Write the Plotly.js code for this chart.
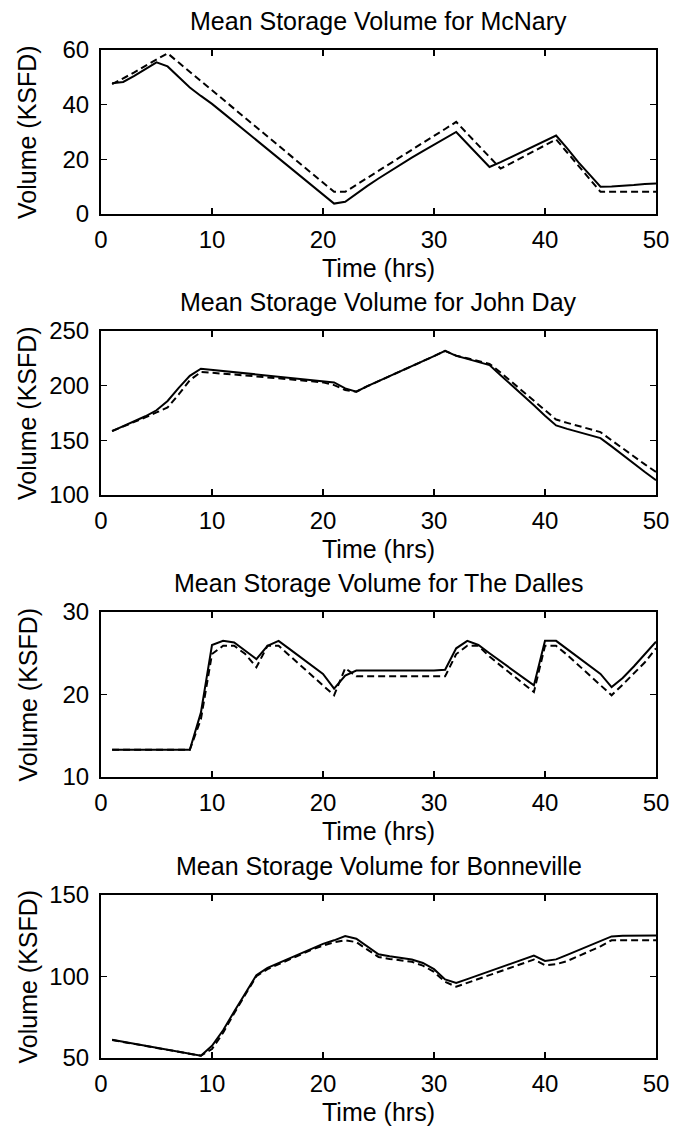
<!DOCTYPE html>
<html>
<head>
<meta charset="utf-8">
<script src="https://cdn.plot.ly/plotly-3.0.1.min.js"></script>
<style>
  html, body { margin: 0; padding: 0; background: #fff; }
  #chart { width: 673px; height: 1129px; }
</style>
</head>
<body>
<div id="chart"></div>
<script>
// ---------------- DATA ----------------
const hours = Array.from({length: 50}, (_, i) => i + 1);

const plotTitles = [
  "Mean Storage Volume for McNary",
  "Mean Storage Volume for John Day",
  "Mean Storage Volume for The Dalles",
  "Mean Storage Volume for Bonneville"
];
const xLabel = "Time (hrs)";
const yLabel = "Volume (KSFD)";

const xTicks = [0, 10, 20, 30, 40, 50];
const mcnaryTicks = [0, 20, 40, 60];
const johnDayTicks = [100, 150, 200, 250];
const dallesTicks = [10, 20, 30];
const bonnevilleTicks = [50, 100, 150];

const mcnarySolid = [
  47.8, 48.3, 50.5, 53.0, 55.5, 54.0, 50.0, 46.3, 43.2, 40.3,
  37.0, 33.7, 30.4, 27.1, 23.8, 20.5, 17.2, 13.9, 10.6, 7.3,
  3.8, 4.5, 7.5, 10.3, 13.0, 15.6, 18.2, 20.6, 23.0, 25.4,
  27.8, 30.0, 25.7, 21.4, 17.2, 19.0, 20.9, 22.8, 24.8, 26.8,
  28.7, 24.0, 19.0, 14.5, 10.0, 10.1, 10.3, 10.6, 11.0, 11.2
];
const mcnaryDashed = [
  47.5, 49.5, 51.8, 54.2, 56.5, 58.8, 55.4, 52.0, 48.6, 45.3,
  41.9, 38.5, 35.1, 31.8, 28.4, 25.0, 21.6, 18.2, 14.9, 11.5,
  8.1, 8.1, 10.7, 13.2, 15.8, 18.3, 20.9, 23.5, 26.0, 28.6,
  31.1, 33.7, 29.4, 25.1, 20.9, 16.6, 18.7, 20.8, 23.0, 25.1,
  27.3, 22.5, 17.7, 12.9, 8.1, 8.1, 8.1, 8.1, 8.1, 8.1
];

const johnDaySolid = [
  158.5, 163.0, 167.5, 172.0, 177.5, 186.0, 198.0, 209.0, 215.5, 214.5,
  213.5, 212.5, 211.5, 210.5, 209.5, 208.5, 207.5, 206.5, 205.5, 204.5,
  203.0, 197.5, 194.5, 199.5, 204.0, 208.5, 213.0, 218.0, 222.5, 227.0,
  231.8, 227.3, 224.5, 221.5, 218.8, 209.5, 200.5, 191.0, 182.0, 172.5,
  163.6, 160.5, 157.5, 154.8, 152.0, 144.5, 136.5, 129.0, 121.0, 113.6
];
const johnDayDashed = [
  158.5, 162.5, 167.0, 171.0, 175.5, 180.0, 192.0, 205.0, 212.5, 212.0,
  211.0, 210.2, 209.4, 208.6, 207.8, 207.0, 206.0, 205.0, 204.0, 203.0,
  200.5, 196.0, 194.5, 199.5, 204.0, 208.5, 213.0, 218.0, 222.5, 227.0,
  231.8, 227.5, 225.0, 222.5, 220.0, 212.0, 203.5, 194.5, 186.0, 177.5,
  169.0, 166.0, 163.0, 160.3, 157.5, 150.0, 142.5, 135.0, 128.0, 121.0
];

const dallesSolid = [
  13.3, 13.3, 13.3, 13.3, 13.3, 13.3, 13.3, 13.3, 17.8, 26.0,
  26.5, 26.3, 25.3, 24.3, 25.9, 26.5, 25.5, 24.5, 23.5, 22.5,
  20.7, 22.3, 22.9, 22.9, 22.9, 22.9, 22.9, 22.9, 22.9, 22.9,
  23.0, 25.6, 26.5, 26.0, 25.0, 24.0, 23.0, 22.0, 21.1, 26.5,
  26.5, 25.5, 24.5, 23.5, 22.5, 20.9, 22.0, 23.4, 24.9, 26.4
];
const dallesDashed = [
  13.3, 13.3, 13.3, 13.3, 13.3, 13.3, 13.3, 13.3, 17.0, 24.9,
  25.9, 25.9, 24.9, 23.3, 25.9, 25.9, 24.7, 23.5, 22.3, 21.1,
  19.9, 23.2, 22.2, 22.2, 22.2, 22.2, 22.2, 22.2, 22.2, 22.2,
  22.2, 24.9, 25.9, 25.9, 24.6, 23.5, 22.4, 21.3, 20.3, 25.9,
  25.9, 24.8, 23.6, 22.4, 21.1, 19.9, 21.2, 22.5, 23.9, 25.6
];

const bonnevilleSolid = [
  61.2, 60.0, 58.8, 57.5, 56.3, 55.0, 53.8, 52.6, 51.4, 57.5,
  67.0, 78.5, 89.6, 100.8, 105.3, 108.3, 111.0, 114.0, 117.0, 120.0,
  122.2, 124.8, 123.2, 118.5, 113.6, 112.4, 111.6, 110.4, 108.3, 104.5,
  98.2, 96.1, 98.4, 100.8, 103.2, 105.6, 108.0, 110.4, 112.8, 109.5,
  110.5, 113.3, 116.1, 118.9, 121.8, 124.6, 125.0, 125.0, 125.0, 125.2
];
const bonnevilleDashed = [
  61.0, 59.8, 58.6, 57.4, 56.2, 55.0, 53.8, 52.6, 51.4, 55.5,
  65.5, 77.5, 89.0, 100.2, 104.5, 107.5, 110.5, 113.5, 116.5, 119.0,
  121.0, 122.2, 121.1, 116.5, 112.0, 110.8, 110.0, 109.0, 106.7, 102.8,
  96.7, 93.7, 96.1, 98.5, 100.9, 103.2, 105.6, 108.0, 110.4, 106.9,
  107.5, 109.5, 112.5, 115.5, 118.5, 122.2, 122.2, 122.2, 122.2, 122.2
];

const panels = [
  {solid: mcnarySolid, dashed: mcnaryDashed, ticks: mcnaryTicks},
  {solid: johnDaySolid, dashed: johnDayDashed, ticks: johnDayTicks},
  {solid: dallesSolid, dashed: dallesDashed, ticks: dallesTicks},
  {solid: bonnevilleSolid, dashed: bonnevilleDashed, ticks: bonnevilleTicks}
];

// ---------------- LAYOUT ----------------
const W = 673, H = 1129;
const plotLeft = 101, plotRight = 656;
const tops = [50, 331, 612, 895];
const bottoms = [214, 495, 777, 1058];
const FONT = "Liberation Sans, Arial, Helvetica, sans-serif";
const TEXT_SIZE = 25;
const TICK_SIZE = 24;
const px2y = p => 1 - p / H;
const px2x = p => p / W;

const traces = [];
const layout = {
  width: W, height: H,
  margin: {l: 0, r: 0, t: 0, b: 0},
  paper_bgcolor: "#ffffff",
  plot_bgcolor: "#ffffff",
  showlegend: false,
  font: {family: FONT, size: TEXT_SIZE, color: "#000"},
  annotations: []
};

panels.forEach((p, i) => {
  const n = i + 1;
  const xa = n === 1 ? "x" : "x" + n;
  const ya = n === 1 ? "y" : "y" + n;
  traces.push({
    x: hours, y: p.solid, xaxis: xa, yaxis: ya, type: "scatter", mode: "lines",
    line: {color: "#000", width: 2, dash: "solid"}, hoverinfo: "skip"
  });
  traces.push({
    x: hours, y: p.dashed, xaxis: xa, yaxis: ya, type: "scatter", mode: "lines",
    line: {color: "#000", width: 2, dash: "7px,4px"}, hoverinfo: "skip"
  });
  const axCommon = {
    showgrid: false, zeroline: false, showline: true, linecolor: "#000", linewidth: 2,
    mirror: "ticks", ticks: "inside", ticklen: 6, tickwidth: 1.2, tickcolor: "#000",
    tickfont: {family: FONT, size: TICK_SIZE, color: "#000"}, fixedrange: true
  };
  layout["xaxis" + (n === 1 ? "" : n)] = Object.assign({}, axCommon, {
    domain: [px2x(plotLeft), px2x(plotRight)],
    anchor: ya, range: [0, 50], tickmode: "array", tickvals: xTicks,
    ticklabelstandoff: 3
  });
  layout["yaxis" + (n === 1 ? "" : n)] = Object.assign({}, axCommon, {
    domain: [px2y(bottoms[i]), px2y(tops[i])],
    anchor: xa, range: [p.ticks[0], p.ticks[p.ticks.length - 1]],
    tickmode: "array", tickvals: p.ticks, ticklabelstandoff: 5
  });
  layout.annotations.push({
    text: plotTitles[i], xref: "paper", yref: "paper",
    x: px2x((plotLeft + plotRight) / 2), y: px2y(tops[i] - 29),
    xanchor: "center", yanchor: "middle", showarrow: false,
    font: {family: FONT, size: TEXT_SIZE, color: "#000"}
  });
  layout.annotations.push({
    text: xLabel, xref: "paper", yref: "paper",
    x: px2x((plotLeft + plotRight) / 2), y: px2y(bottoms[i] + 54),
    xanchor: "center", yanchor: "middle", showarrow: false,
    font: {family: FONT, size: TEXT_SIZE, color: "#000"}
  });
  layout.annotations.push({
    text: yLabel, xref: "paper", yref: "paper",
    x: px2x(27), y: px2y((tops[i] + bottoms[i]) / 2),
    xanchor: "center", yanchor: "middle", showarrow: false, textangle: -90,
    font: {family: FONT, size: TEXT_SIZE, color: "#000"}
  });
});

Plotly.newPlot("chart", traces, layout, {displayModeBar: false, staticPlot: true});
</script>
</body>
</html>
